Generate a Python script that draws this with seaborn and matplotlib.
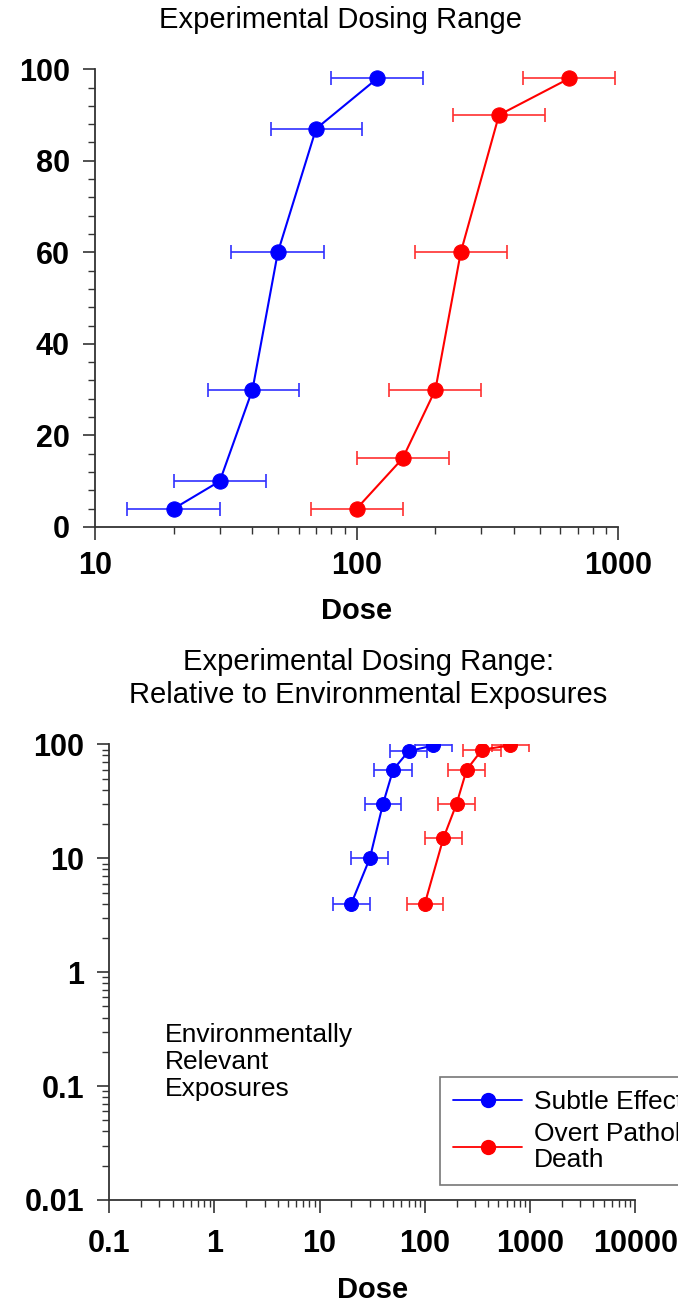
import seaborn as sns
import matplotlib.pyplot as plt
import pandas as pd
from matplotlib.lines import Line2D
from matplotlib.ticker import MultipleLocator, LogLocator, FixedLocator, FixedFormatter, NullFormatter

# values
subtle_dose = [20, 30, 40, 50, 70, 120]
subtle_pct = [4, 10, 30, 60, 87, 98]
subtle_lo = [13.3, 20, 27, 33, 47, 80]
subtle_hi = [30, 45, 60, 75, 105, 180]

overt_dose = [100, 150, 200, 250, 350, 650]
overt_pct = [4, 15, 30, 60, 90, 98]
overt_lo = [67, 100, 133, 167, 233, 433]
overt_hi = [150, 225, 300, 375, 525, 975]

series_names = ["Subtle Effects", "Overt Pathology/\nDeath"]
series_colors = ["#0000FF", "#FF0000"]
ebar_colors = ["#3030FF", "#FF3030"]

top_yticks = [0, 20, 40, 60, 80, 100]
top_xticks = [10, 100, 1000]
bot_yticks = [0.01, 0.1, 1, 10, 100]
bot_ytick_labels = ["0.01", "0.1", "1", "10", "100"]
bot_xticks = [0.1, 1, 10, 100, 1000, 10000]
bot_xtick_labels = ["0.1", "1", "10", "100", "1000", "10000"]

sns.set_style("ticks")
plt.rcParams['font.family'] = ['Liberation Sans', 'DejaVu Sans']
plt.rcParams['text.color'] = 'black'
plt.rcParams['axes.labelcolor'] = 'black'

df = pd.DataFrame({
    "dose": subtle_dose + overt_dose,
    "pct": subtle_pct + overt_pct,
    "lo": subtle_lo + overt_lo,
    "hi": subtle_hi + overt_hi,
    "series": [series_names[0]] * len(subtle_dose) + [series_names[1]] * len(overt_dose),
})

fig = plt.figure(figsize=(6.78, 13.06), dpi=100)
ax1 = fig.add_axes([0.140, 0.5965, 0.772, 0.3505])
ax2 = fig.add_axes([0.161, 0.0812, 0.776, 0.3488])


def draw(ax, msize):
    for name, col, ecol in zip(series_names, series_colors, ebar_colors):
        sub = df[df["series"] == name]
        ax.errorbar(sub["dose"], sub["pct"],
                    xerr=[sub["dose"] - sub["lo"], sub["hi"] - sub["dose"]],
                    fmt="none", ecolor=ecol, elinewidth=1.2, capsize=5, capthick=1.2,
                    zorder=2)
        sns.lineplot(data=sub, x="dose", y="pct", ax=ax, color=col, marker="o",
                     markersize=msize, markeredgecolor=col, linewidth=1.5,
                     legend=False, zorder=3)


draw(ax1, 11)
draw(ax2, 10)

for ax in (ax1, ax2):
    sns.despine(ax=ax)
    ax.spines["left"].set_linewidth(1.3)
    ax.spines["bottom"].set_linewidth(1.3)
    ax.spines["left"].set_color("#333333")
    ax.spines["bottom"].set_color("#333333")
    ax.tick_params(which="major", length=9, width=1.2, color="#333333", direction="out",
                   labelcolor="black")
    ax.tick_params(which="minor", length=5, width=1.0, color="#333333", direction="out")
    ax.set_ylabel("")
    ax.set_xlabel("Dose", fontsize=21, fontweight="bold", labelpad=12)
    ax.set_xscale("log")

# top panel
ax1.set_xlim(10, 1000)
ax1.set_ylim(0, 100)
ax1.yaxis.set_major_locator(FixedLocator(top_yticks))
ax1.yaxis.set_minor_locator(MultipleLocator(4))
ax1.xaxis.set_major_locator(FixedLocator(top_xticks))
ax1.xaxis.set_major_formatter(FixedFormatter([str(t) for t in top_xticks]))
ax1.xaxis.set_minor_locator(LogLocator(base=10, subs=range(2, 10)))
ax1.xaxis.set_minor_formatter(NullFormatter())
for lab in ax1.get_xticklabels() + ax1.get_yticklabels():
    lab.set_fontsize(22)
    lab.set_fontweight("bold")
ax1.tick_params(axis="x", pad=8)
ax1.tick_params(axis="y", pad=9)

# bottom panel
ax2.set_yscale("log")
ax2.set_xlim(0.1, 10000)
ax2.set_ylim(0.01, 100)
ax2.yaxis.set_major_locator(FixedLocator(bot_yticks))
ax2.yaxis.set_major_formatter(FixedFormatter(bot_ytick_labels))
ax2.yaxis.set_minor_locator(LogLocator(base=10, subs=range(2, 10)))
ax2.yaxis.set_minor_formatter(NullFormatter())
ax2.xaxis.set_major_locator(FixedLocator(bot_xticks))
ax2.xaxis.set_major_formatter(FixedFormatter(bot_xtick_labels))
ax2.xaxis.set_minor_locator(LogLocator(base=10, subs=range(2, 10)))
ax2.xaxis.set_minor_formatter(NullFormatter())
for lab in ax2.get_xticklabels() + ax2.get_yticklabels():
    lab.set_fontsize(22)
    lab.set_fontweight("bold")
ax2.tick_params(axis="x", pad=12)
ax2.tick_params(axis="y", pad=9)

fig.text(0.502, 0.9845, "Experimental Dosing Range", ha="center", va="center", fontsize=21)
fig.text(0.543, 0.4805, "Experimental Dosing Range:\nRelative to Environmental Exposures",
         ha="center", va="center", fontsize=21, linespacing=1.2)

ax2.text(0.243, 0.187, "Environmentally\nRelevant\nExposures", transform=fig.transFigure,
         ha="left", va="center", fontsize=19, linespacing=1.15)

handles = [Line2D([], [], color=c, marker="o", markersize=10, linewidth=1.3) for c in series_colors]
leg = fig.legend(handles, series_names, loc="upper left", bbox_to_anchor=(0.649, 0.1755),
                 borderaxespad=0, fontsize=19, frameon=True, fancybox=False,
                 edgecolor="#555555", handlelength=2.6, borderpad=0.5, labelspacing=0.3,
                 handletextpad=0.45)
leg.get_frame().set_linewidth(1.2)
for t in leg.get_texts():
    t.set_linespacing(1.1)

fig.savefig("out.png", dpi=100)
